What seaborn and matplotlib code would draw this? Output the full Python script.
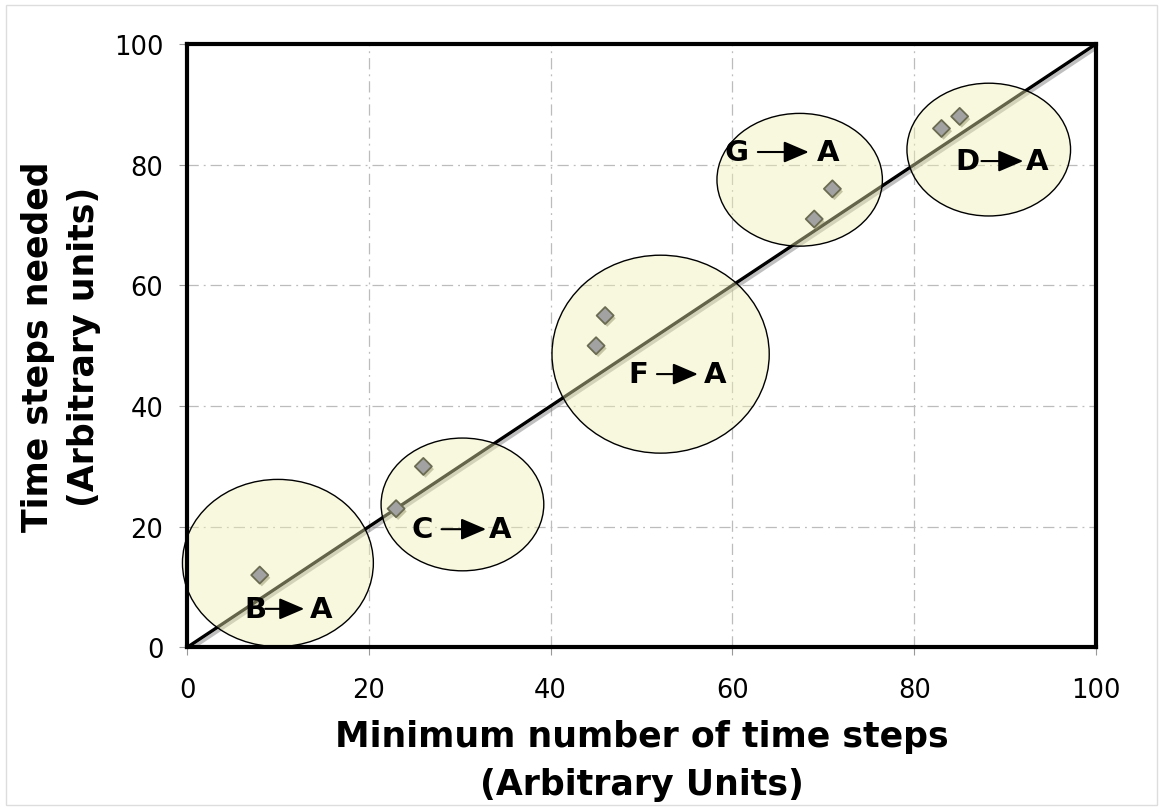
import numpy as np
import pandas as pd
import seaborn as sns
import matplotlib.pyplot as plt
import matplotlib.patheffects as pe
from matplotlib.patches import Ellipse, Rectangle

# measured points
min_steps = [8, 23, 26, 45, 46, 69, 71, 83, 85]
steps_needed = [12, 23, 30, 50, 55, 71, 76, 86, 88]

# ideal line
diag_x = [0, 100]
diag_y = [0, 100]

# groups: (center x, center y, width, height)
group_names = ["B", "C", "F", "G", "D"]
group_cx = [10.0, 30.3, 52.1, 67.4, 88.2]
group_cy = [14.0, 23.7, 48.6, 77.5, 82.5]
group_w = [21.0, 17.9, 23.9, 18.2, 18.0]
group_h = [27.7, 22.0, 32.8, 22.0, 22.0]

# label positions: from-letter x, arrow start, arrow end, "A" x, y
lab_from_x = [7.5, 25.9, 49.6, 60.5, 85.9]
arrow_x0 = [8.6, 28.0, 51.7, 62.8, 87.4]
arrow_x1 = [12.9, 32.9, 56.2, 68.4, 92.0]
lab_to_x = [14.8, 34.4, 58.1, 70.5, 93.5]
lab_y = [6.4, 19.6, 45.3, 82.1, 80.6]

df = pd.DataFrame({"min_steps": min_steps, "steps_needed": steps_needed})

sns.set_theme(style="white")
plt.rcParams['font.family'] = ['DejaVu Sans']
plt.rcParams['text.color'] = 'black'
plt.rcParams['axes.labelcolor'] = 'black'

fig = plt.figure(figsize=(11.63, 8.12), dpi=100)
ax = fig.add_axes([0.1608, 0.2014, 0.7816, 0.7432])

# thin frame around the whole figure
fig.patches.append(Rectangle((0.005, 0.007), 0.99, 0.986, transform=fig.transFigure,
                             fill=False, edgecolor="#dddddd", lw=1))

sns.lineplot(x=diag_x, y=diag_y, ax=ax, color="black", lw=2.4, zorder=2)
ax.lines[0].set_path_effects([pe.SimpleLineShadow(offset=(1.5, -2), shadow_color="grey", alpha=0.5),
                              pe.Normal()])

for cx, cy, w, h in zip(group_cx, group_cy, group_w, group_h):
    e = Ellipse((cx, cy), w, h, facecolor="#f0f0b4", alpha=0.42, edgecolor="none",
                zorder=3, clip_on=False)
    ax.add_patch(e)
    e2 = Ellipse((cx, cy), w, h, facecolor="none", edgecolor="black", lw=1.0,
                 zorder=3.1, clip_on=False)
    ax.add_patch(e2)

sns.scatterplot(data=df, x="min_steps", y="steps_needed", ax=ax, marker="D", s=75,
                color="#a2a2a2", edgecolor="#6b6b52", linewidth=1.3, zorder=4)
ax.collections[-1].set_path_effects([pe.SimplePatchShadow(offset=(1.5, -2), shadow_rgbFace="#8a8a60", alpha=0.45),
                                     pe.Normal()])
ax.collections[-1].set_clip_on(False)

for name, fx, a0, a1, tx, y in zip(group_names, lab_from_x, arrow_x0, arrow_x1, lab_to_x, lab_y):
    ax.text(fx, y, name, fontsize=21, fontweight="bold", ha="center", va="center",
            color="black", zorder=5)
    ax.text(tx, y, "A", fontsize=21, fontweight="bold", ha="center", va="center",
            color="black", zorder=5)
    ax.annotate("", xy=(a1, y), xytext=(a0, y),
                arrowprops=dict(arrowstyle="-|>,head_length=0.7,head_width=0.3", color="black",
                                lw=1.5, shrinkA=0, shrinkB=0, mutation_scale=22),
                zorder=5)

ax.set_xlim(0, 100)
ax.set_ylim(0, 100)
ax.set_xticks(np.arange(0, 101, 20))
ax.set_yticks(np.arange(0, 101, 20))
ax.grid(True, linestyle=(0, (9, 4, 1.5, 4)), color="#bcbcbc", lw=0.9)
ax.set_axisbelow(True)
for sp in ax.spines.values():
    sp.set_linewidth(3)
    sp.set_color("black")
    sp.set_zorder(6)
ax.tick_params(axis="both", direction="out", length=6, width=0.8, color="#999999",
               labelsize=18.5, labelcolor="black", bottom=True, left=True)
ax.tick_params(axis="x", pad=15)
ax.tick_params(axis="y", pad=11)

ax.set_xlabel("Minimum number of time steps\n(Arbitrary Units)", fontsize=25,
              fontweight="bold", labelpad=12, linespacing=1.5, color="black")
ax.set_ylabel("Time steps needed\n(Arbitrary units)", fontsize=25,
              fontweight="bold", labelpad=9, linespacing=1.45, color="black")

fig.savefig("out.png", dpi=100)
